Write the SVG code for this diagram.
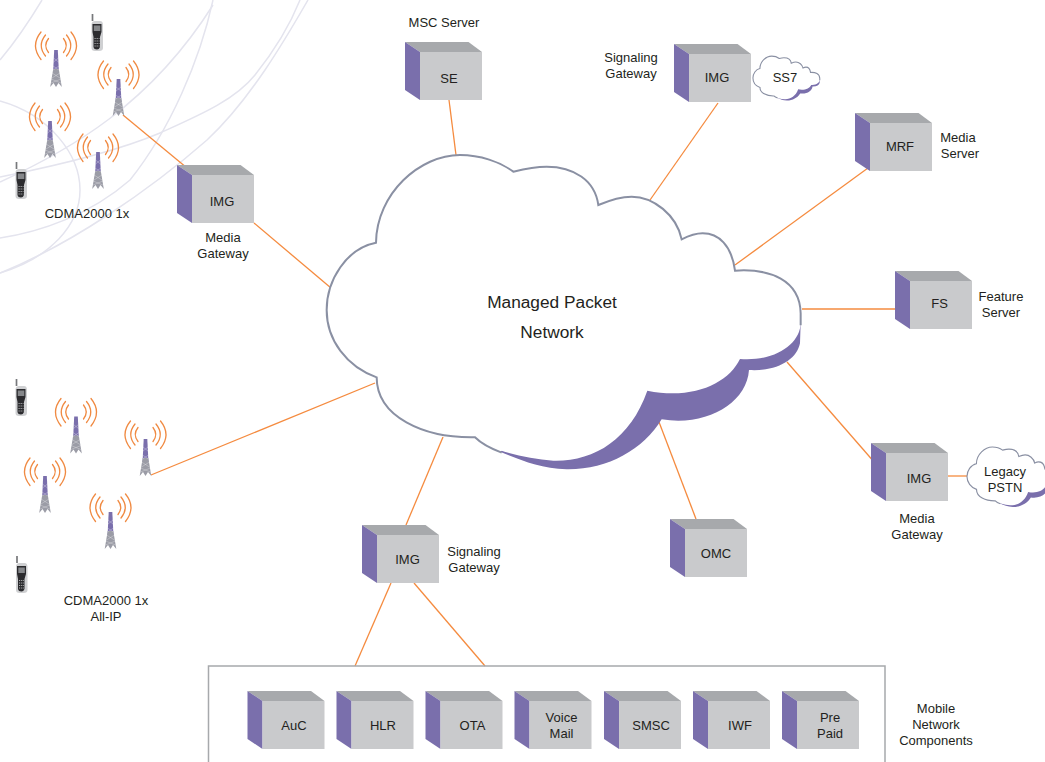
<svg xmlns="http://www.w3.org/2000/svg" width="1045" height="762" viewBox="0 0 1045 762">
<style>
text{font-family:"Liberation Sans",Arial,sans-serif;font-size:13px;fill:#231f20;text-anchor:middle}
.big{font-size:17.3px}
.conn line{stroke:#f58b3f;stroke-width:1.3;fill:none}
.bg path{fill:none;stroke:#e4e4ee;stroke-width:1.5}
.arc{fill:none;stroke:#f08a42;stroke-width:1.3;stroke-linecap:round}
.shade{fill:#7a6fac}
.fill{fill:#fff}
.outline{fill:none;stroke:#8a90a3;stroke-linejoin:miter}
</style>
<defs>
<g id="box">
<polygon points="0,0 63.500,0 77,10 15,10" fill="#a7a9ac"/>
<polygon points="0,0 15,10 15,58 0,48" fill="#7a6fac"/>
<rect x="15" y="10" width="62" height="48" fill="#c9cacc"/>
</g>
<path id="cloudFill" d="M168,308C170,160 300,45 420,45C480,45 540,65 580,95C620,85 650,80 680,80C760,80 825,120 835,195C870,180 900,170 935,170C1000,170 1070,225 1085,298C1105,288 1125,280 1148,280C1195,280 1235,315 1245,392C1350,385 1440,420 1442,520L1442,550C1440,610 1370,665 1260,657C1225,730 1120,780 982,752C930,900 820,965 700,962C610,955 510,930 465,892C310,895 170,830 170,712C80,680 20,600 20,510C20,420 80,325 168,308Z"/>
<path id="cloudShade" d="M1442,550L1440,610C1430,660 1370,695 1287,690C1280,790 1160,860 1025,838C970,930 860,990 740,988C660,985 600,960 540,935L900,700L1260,640Z"/>
<path id="cloudLine" d="M1442,556L1442,520C1440,420 1350,385 1245,392C1235,315 1195,280 1148,280C1125,280 1105,288 1085,298C1070,225 1000,170 935,170C900,170 870,180 835,195C825,120 760,80 680,80C650,80 620,85 580,95C540,65 480,45 420,45C300,45 170,160 168,308C80,325 20,420 20,510C20,600 80,680 170,712C170,830 310,895 465,892C485,912 510,925 545,938"/>
<g id="tower">
<polygon points="-1.800,0 1.800,0 3,24 -3,24" fill="#7a6fac"/>
<path d="M-2.800,19L-5.800,37L-2.500,33L0,37L2.500,33L5.800,37L2.800,19Z" fill="#9b9ca6"/>
<path d="M-2.500,8L2.500,12M2.500,8L-2.500,12M-3,16L3,20M3,16L-3,20M-4,23L4,28M4,23L-4,28M-5,29L5,33M5,29L-5,33" stroke="#fff" stroke-width=".5" stroke-opacity=".55"/>
<path class="arc" d="M-7.500,-11.500Q-13,-4.500 -7.500,2.500M-10.500,-15Q-19,-4.500 -10.500,6M-15,-18Q-26,-4.500 -15,9.500M7.500,-11.500Q13,-4.500 7.500,2.500M10.500,-15Q19,-4.500 10.500,6M15,-18Q26,-4.500 15,9.500"/>
</g>
<g id="phone">
<path d="M-4.500,-12V-19" stroke="#77787b" stroke-width="1.700" fill="none"/>
<path d="M-5.500,-9Q-5,-12 -2,-12H3Q6,-12 6,-8V15Q6,18 2,18H-2Q-5.500,18 -5.500,15Z" fill="#cfd0d2"/>
<path d="M-4.500,-9H4.500V-1L3,4V14Q2,16.500 0,16.500Q-3,16.500 -3.500,14V4L-4.500,-1Z" fill="#2b2b2e"/>
<rect x="-3.200" y="-7.500" width="6.500" height="5.500" fill="#85878a"/>
<path d="M-2.500,5.500H2.500M-2.500,8H2.500M-2.500,10.500H2.500M-2.500,13H2.500" stroke="#a8a9ab" stroke-width="1" stroke-dasharray="1.200 .9"/>
</g>
</defs>

<g id="background" class="bg">
<path d="M0,60C15,42 30,20 42,0"/>
<path d="M0,101C50,115 80,155 80,190C80,225 50,258 0,273"/>
<path d="M0,182C70,150 150,105 213,5"/>
<path d="M213,0C200,60 170,130 130,180C90,215 40,232 0,238"/>
<path d="M0,177C60,165 120,150 160,133C200,115 235,100 255,75C275,50 290,25 300,0"/>
<path d="M0,273C70,245 150,190 207,140C250,100 285,40 308,0"/>
</g>

<g id="connectors" class="conn">
<line x1="123" y1="115" x2="184" y2="165.500"/>
<line x1="254" y1="223" x2="331" y2="288"/>
<line x1="449" y1="100" x2="456" y2="155"/>
<line x1="718" y1="103" x2="650" y2="200"/>
<line x1="868" y1="168" x2="735" y2="265"/>
<line x1="802" y1="309" x2="895" y2="309"/>
<line x1="787" y1="362" x2="875" y2="463"/>
<line x1="948" y1="476" x2="968" y2="476"/>
<line x1="659" y1="422" x2="696" y2="519"/>
<line x1="443" y1="437" x2="406" y2="525"/>
<line x1="375" y1="383" x2="151" y2="475"/>
<line x1="391" y1="583" x2="355" y2="666"/>
<line x1="414" y1="583" x2="485" y2="666"/>
</g>

<g id="cdma-1x">
<use href="#tower" x="56" y="50"/><use href="#tower" x="118.500" y="79"/><use href="#tower" x="50" y="121"/><use href="#tower" x="98" y="152"/>
<use href="#phone" x="97" y="33"/><use href="#phone" x="21" y="181"/>
<text x="87" y="218">CDMA2000 1x</text>
</g>
<g id="cdma-allip">
<use href="#tower" x="76" y="416.500"/><use href="#tower" x="145.500" y="439"/><use href="#tower" x="45" y="476"/><use href="#tower" x="110.500" y="512"/>
<use href="#phone" x="21" y="398"/><use href="#phone" x="21.500" y="575"/>
<text x="106" y="605">CDMA2000 1x</text><text x="106" y="621">All-IP</text>
</g>

<g id="cloud">
<g transform="translate(320,140) scale(.33333)">
<use href="#cloudShade" class="shade"/><use href="#cloudFill" class="fill"/><use href="#cloudLine" class="outline" stroke-width="6"/>
</g>
<text class="big" x="552" y="308">Managed Packet</text>
<text class="big" x="552" y="338">Network</text>
</g>

<g id="ss7">
<g transform="translate(752,54) scale(.047)">
<use href="#cloudShade" class="shade"/><use href="#cloudFill" class="fill"/><use href="#cloudLine" class="outline" stroke-width="23"/>
</g>
<text x="785" y="82">SS7</text>
</g>
<g id="pstn">
<g transform="translate(965.700,444.100) scale(.0636)">
<use href="#cloudShade" class="shade"/><use href="#cloudFill" class="fill"/><use href="#cloudLine" class="outline" stroke-width="18"/>
</g>
<text x="1005" y="476">Legacy</text><text x="1005" y="491.500">PSTN</text>
</g>

<g id="se"><use href="#box" x="405" y="42"/><text x="449" y="83">SE</text><text x="444" y="27">MSC Server</text></g>
<g id="img-sg"><use href="#box" x="674" y="44"/><text x="717" y="82">IMG</text><text x="631" y="62">Signaling</text><text x="631" y="78">Gateway</text></g>
<g id="mrf"><use href="#box" x="855" y="113"/><text x="900" y="151">MRF</text><text x="958" y="142">Media</text><text x="960" y="158">Server</text></g>
<g id="fs"><use href="#box" x="895" y="271"/><text x="939.500" y="308">FS</text><text x="1001" y="301">Feature</text><text x="1001" y="317">Server</text></g>
<g id="img-mg-top"><use href="#box" x="177" y="165"/><text x="222" y="206">IMG</text><text x="223" y="242">Media</text><text x="223" y="258">Gateway</text></g>
<g id="img-mg-bottom"><use href="#box" x="871" y="443"/><text x="919" y="483">IMG</text><text x="917" y="523">Media</text><text x="917" y="539">Gateway</text></g>
<g id="omc"><use href="#box" x="670" y="519"/><text x="716" y="558">OMC</text></g>
<g id="img-sg-bottom"><use href="#box" x="362" y="525"/><text x="407.500" y="564">IMG</text><text x="474" y="556">Signaling</text><text x="474" y="572">Gateway</text></g>

<g id="mobile-components">
<path d="M208.500,762V666H885V762" fill="none" stroke="#a7a9ac" stroke-width="1.500"/>
<g id="auc"><use href="#box" x="247.500" y="691"/><text x="294" y="730">AuC</text></g>
<g id="hlr"><use href="#box" x="336.500" y="691"/><text x="383" y="730">HLR</text></g>
<g id="ota"><use href="#box" x="425.500" y="691"/><text x="472.500" y="730">OTA</text></g>
<g id="voice"><use href="#box" x="514.500" y="691"/><text x="561.500" y="722">Voice</text><text x="561.500" y="738">Mail</text></g>
<g id="smsc"><use href="#box" x="604" y="691"/><text x="651" y="730">SMSC</text></g>
<g id="iwf"><use href="#box" x="693" y="691"/><text x="740" y="730">IWF</text></g>
<g id="prepaid"><use href="#box" x="782" y="691"/><text x="830" y="722">Pre</text><text x="830" y="738">Paid</text></g>
<text x="936" y="713">Mobile</text><text x="936" y="729">Network</text><text x="936" y="745">Components</text>
</g>
</svg>
